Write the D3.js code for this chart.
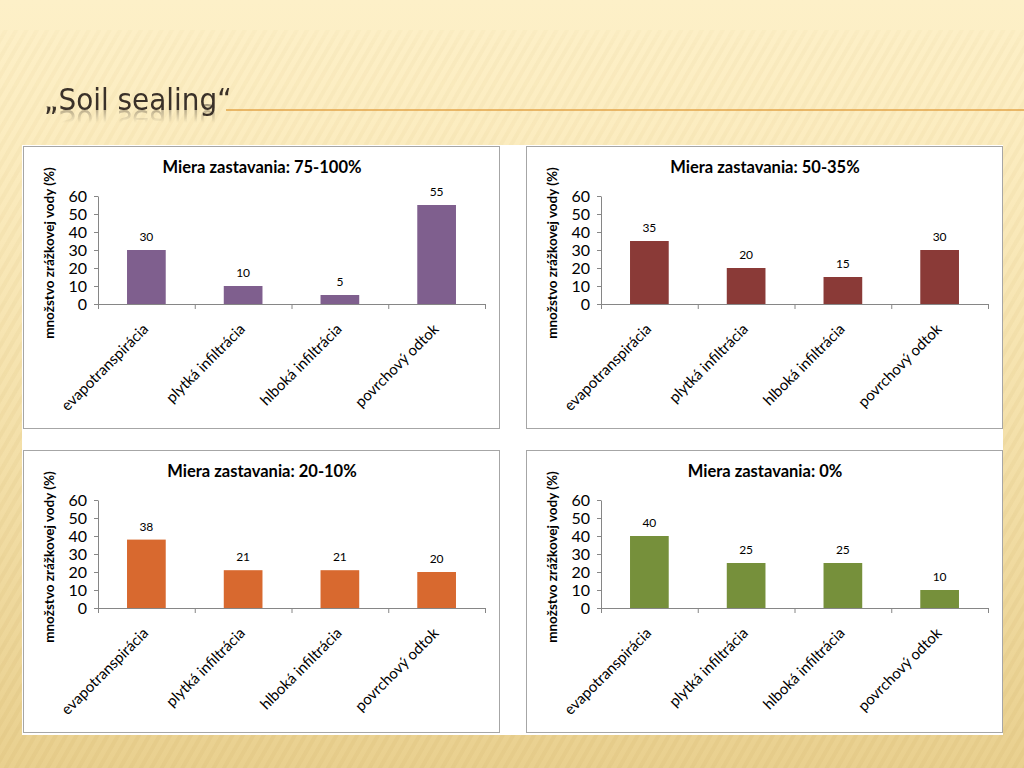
<!DOCTYPE html>
<html>
<head>
<meta charset="utf-8">
<script src="https://cdn.jsdelivr.net/npm/d3@7"></script>
<style>
  body { margin: 0; overflow: hidden; position: relative; }
  svg { display: block; }
  #slideTitle {
    position: absolute; left: 44px; top: 81px;
    font-family: 'Liberation Sans Narrow', 'DejaVu Sans Condensed', 'Open Sans', sans-serif;
    font-size: 31px; line-height: 36px; color: #3a3129; white-space: nowrap;
    -webkit-box-reflect: below -14px linear-gradient(transparent 45%, rgba(255,255,255,0.5));
  }
</style>
</head>
<body>
<svg id="slide" width="1024" height="768"></svg>
<script>
// chart data
var categories = ["evapotranspirácia", "plytká infiltrácia", "hlboká infiltrácia", "povrchový odtok"]
var titles = ["Miera zastavania: 75-100%", "Miera zastavania: 50-35%", "Miera zastavania: 20-10%", "Miera zastavania: 0%"]
var values75 = [30, 10, 5, 55]
var values50 = [35, 20, 15, 30]
var values20 = [38, 21, 21, 20]
var values0 = [40, 25, 25, 10]
var yTicks = [0, 10, 20, 30, 40, 50, 60]
var yLabel = "množstvo zrážkovej vody (%)"
var slideTitle = "„Soil sealing“"

var series = [values75, values50, values20, values0]
var colors = ["#7f5f8e", "#8a3a37", "#d8692f", "#76903b"]
var panelPos = [[23, 146], [526, 146], [23, 450], [526, 450]]
var panelW = 476, panelH = 282

var svg = d3.select("#slide")
var defs = svg.append("defs")

// background: cream gradient with soft stripes
var bg = defs.append("linearGradient").attr("id", "bg").attr("x1", 0).attr("y1", 0).attr("x2", 0).attr("y2", 1)
bg.append("stop").attr("offset", 0).attr("stop-color", "#fdf0c8")
bg.append("stop").attr("offset", 0.15).attr("stop-color", "#fcedc1")
bg.append("stop").attr("offset", 0.6).attr("stop-color", "#f3dfa8")
bg.append("stop").attr("offset", 1).attr("stop-color", "#e9d08f")

var pat = defs.append("pattern").attr("id", "stripes").attr("patternUnits", "userSpaceOnUse")
  .attr("width", 9).attr("height", 9).attr("patternTransform", "rotate(30)")
pat.append("rect").attr("width", 4).attr("height", 9).attr("fill", "#c9a961")

var fade = defs.append("linearGradient").attr("id", "fade").attr("x1", 0).attr("y1", 0).attr("x2", 0).attr("y2", 1)
fade.append("stop").attr("offset", 0).attr("stop-color", "#fff").attr("stop-opacity", 0)
fade.append("stop").attr("offset", 0.06).attr("stop-color", "#fff").attr("stop-opacity", 0.5)
fade.append("stop").attr("offset", 1).attr("stop-color", "#fff").attr("stop-opacity", 1)
defs.append("mask").attr("id", "stripeMask")
  .append("rect").attr("width", 1024).attr("height", 768).attr("fill", "url(#fade)")

svg.append("rect").attr("width", 1024).attr("height", 768).attr("fill", "url(#bg)")
svg.append("rect").attr("y", 30).attr("width", 1024).attr("height", 738)
  .attr("fill", "url(#stripes)").attr("opacity", 0.13).attr("mask", "url(#stripeMask)")

// slide title (html, so the reflection is a css effect) and its rule
svg.append("line").attr("x1", 226).attr("x2", 1024).attr("y1", 110).attr("y2", 110)
  .attr("stroke", "#e3a448").attr("stroke-width", 1.5)
d3.select("body").append("div").attr("id", "slideTitle").text(slideTitle)

// white backing behind all four charts
svg.append("rect").attr("x", 22).attr("y", 145).attr("width", 981).attr("height", 590).attr("fill", "#ffffff")

var font = "Lato, 'Open Sans', sans-serif"

series.forEach(function(vals, k) {
  var px = panelPos[k][0], py = panelPos[k][1]
  var g = svg.append("g").attr("transform", "translate(" + px + "," + py + ")")

  g.append("rect").attr("x", 0.5).attr("y", 0.5).attr("width", panelW).attr("height", panelH)
    .attr("fill", "#fff").attr("stroke", "#a6a6a6").attr("stroke-width", 1)

  var x = d3.scaleBand().domain(categories).range([75, 462])
  var xb = d3.scaleLinear().domain([0, 4]).range([75, 462])
  var y = d3.scaleLinear().domain([0, 60]).range([158, 50])

  g.append("text").attr("x", panelW / 2 + 1).attr("y", 27).attr("text-anchor", "middle")
    .attr("font-family", font).attr("font-weight", "bold").attr("font-size", 16.5)
    .attr("fill", "#000").text(titles[k])

  var ya = g.append("g").attr("transform", "translate(75,0)")
    .call(d3.axisLeft(y).tickValues(yTicks).tickSize(4).tickPadding(7).tickSizeOuter(0))
  ya.select(".domain").attr("stroke", "#868686")
  ya.selectAll(".tick line").attr("stroke", "#868686")
  ya.selectAll("text").attr("font-family", font).attr("font-size", 16).attr("fill", "#000")

  var xa = g.append("g").attr("transform", "translate(0,158)")
    .call(d3.axisBottom(xb).tickValues([0, 1, 2, 3, 4]).tickFormat("").tickSize(5).tickSizeOuter(0))
  xa.select(".domain").attr("stroke", "#868686")
  xa.selectAll(".tick line").attr("stroke", "#868686")

  var bw = x.bandwidth() * 0.4
  g.selectAll("rect.bar").data(vals).enter().append("rect").attr("class", "bar")
    .attr("x", function(d, i) { return x(categories[i]) + x.bandwidth() / 2 - bw / 2 })
    .attr("y", function(d) { return y(d) })
    .attr("width", bw)
    .attr("height", function(d) { return y(0) - y(d) })
    .attr("fill", colors[k])

  g.selectAll("text.val").data(vals).enter().append("text").attr("class", "val")
    .attr("x", function(d, i) { return x(categories[i]) + x.bandwidth() / 2 })
    .attr("y", function(d) { return y(d) - 9 })
    .attr("text-anchor", "middle").attr("font-family", font).attr("font-size", 12)
    .attr("fill", "#000").text(function(d) { return d })

  g.selectAll("text.cat").data(categories).enter().append("text").attr("class", "cat")
    .attr("transform", function(d) {
      return "translate(" + (x(d) + x.bandwidth() / 2 + 3) + ",184) rotate(-45)"
    })
    .attr("text-anchor", "end")
    .attr("font-family", font).attr("font-size", 15).attr("fill", "#000").text(function(d) { return d })

  g.append("text").attr("transform", "translate(31,107) rotate(-90)")
    .attr("text-anchor", "middle").attr("font-family", font).attr("font-weight", "bold")
    .attr("font-size", 13.5).attr("fill", "#000").text(yLabel)
})
</script>
</body>
</html>
